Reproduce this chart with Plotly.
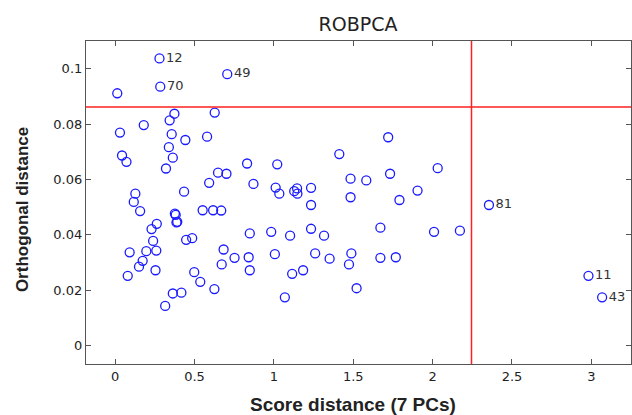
import plotly.graph_objects as go

# Unlabelled observations: score distance (x) and orthogonal distance (y)
score_dist = [0.013, 0.030, 0.180, 0.373, 0.343, 0.627, 0.356, 0.579, 0.442, 0.338,
              1.720, 0.043, 0.071, 0.363, 1.412, 0.320, 0.831, 1.021, 2.032, 0.648,
              0.701, 1.732, 1.483, 1.582, 0.592, 0.871, 1.011, 1.234, 1.146, 1.128,
              1.148, 1.034, 1.905, 0.127, 0.434, 1.483, 1.791, 0.117, 1.234, 0.157,
              0.551, 0.617, 0.668, 0.376, 0.381, 0.391, 0.386, 0.262, 0.229, 1.671,
              1.234, 2.009, 2.172, 0.983, 0.848, 1.102, 1.316, 0.485, 0.447, 0.239,
              0.683, 0.091, 0.196, 0.259, 0.173, 1.006, 1.260, 1.488, 0.841, 0.752,
              1.351, 1.671, 1.768, 0.150, 0.671, 1.473, 0.254, 0.848, 1.184, 1.115,
              0.498, 0.079, 0.536, 0.625, 1.521, 0.363, 0.417, 1.069, 0.315]
orth_dist = [0.0912, 0.0770, 0.0797, 0.0838, 0.0814, 0.0842, 0.0764, 0.0755, 0.0743, 0.0717,
             0.0753, 0.0687, 0.0664, 0.0679, 0.0692, 0.0640, 0.0658, 0.0655, 0.0641, 0.0625,
             0.0621, 0.0621, 0.0603, 0.0597, 0.0588, 0.0584, 0.0571, 0.0570, 0.0568, 0.0558,
             0.0549, 0.0549, 0.0560, 0.0549, 0.0556, 0.0536, 0.0526, 0.0519, 0.0508, 0.0486,
             0.0489, 0.0489, 0.0488, 0.0477, 0.0472, 0.0447, 0.0445, 0.0440, 0.0421, 0.0426,
             0.0422, 0.0411, 0.0415, 0.0411, 0.0405, 0.0397, 0.0397, 0.0388, 0.0382, 0.0378,
             0.0347, 0.0337, 0.0341, 0.0343, 0.0306, 0.0330, 0.0333, 0.0333, 0.0319, 0.0317,
             0.0314, 0.0317, 0.0319, 0.0285, 0.0293, 0.0293, 0.0272, 0.0272, 0.0272, 0.0259,
             0.0265, 0.0252, 0.0230, 0.0204, 0.0207, 0.0188, 0.0191, 0.0174, 0.0143]

# Labelled (outlying) observations
label_ids = ["12", "70", "49", "81", "11", "43"]
label_sd = [0.279, 0.284, 0.706, 2.355, 2.982, 3.068]
label_od = [0.1038, 0.0936, 0.0981, 0.0508, 0.0252, 0.0174]

# Cut-off values
sd_cutoff = 2.245
od_cutoff = 0.0862

x_ticks = [0, 0.5, 1, 1.5, 2, 2.5, 3]
x_ticktext = ["0", "0.5", "1", "1.5", "2", "2.5", "3"]
y_ticks = [0, 0.02, 0.04, 0.06, 0.08, 0.1]
y_ticktext = ["0", "0.02", "0.04", "0.06", "0.08", "0.1"]

marker_style = dict(symbol="circle-open", size=9, color="#1a1aff", line=dict(width=1.3, color="#1a1aff"))

fig = go.Figure()
fig.add_trace(go.Scatter(x=score_dist, y=orth_dist, mode="markers", marker=marker_style,
                         showlegend=False, cliponaxis=False))
fig.add_trace(go.Scatter(x=label_sd, y=label_od, mode="markers+text", text=label_ids,
                         textposition="middle right",
                         textfont=dict(family="DejaVu Sans", size=13, color="#333333"),
                         marker=marker_style, showlegend=False, cliponaxis=False))

fig.add_shape(type="line", xref="x", yref="paper", x0=sd_cutoff, x1=sd_cutoff, y0=0, y1=1,
              line=dict(color="#ff2020", width=1.5))
fig.add_shape(type="line", xref="paper", yref="y", x0=0, x1=1, y0=od_cutoff, y1=od_cutoff,
              line=dict(color="#ff2020", width=1.5))

axis_common = dict(showline=True, linecolor="#555555", linewidth=1.2, mirror="ticks",
                   ticks="inside", ticklen=5, tickwidth=1, tickcolor="#555555",
                   showgrid=False, zeroline=False,
                   tickfont=dict(family="DejaVu Sans", size=13, color="#222222"))

fig.update_layout(
    width=632, height=415,
    margin=dict(l=86, r=1, t=41, b=51),
    paper_bgcolor="white", plot_bgcolor="white",
    title=dict(text="ROBPCA", x=358/632, y=1 - 24.5/415, xanchor="center", yanchor="middle",
               font=dict(family="DejaVu Sans", size=19, color="#222222")),
    xaxis=dict(range=[-0.184, 3.25], tickvals=x_ticks, ticktext=x_ticktext, **axis_common),
    yaxis=dict(range=[-0.0067, 0.1101], tickvals=y_ticks, ticktext=y_ticktext, **axis_common),
    annotations=[
        dict(text="<b>Score distance (7 PCs)</b>", xref="paper", yref="paper",
             x=0.489, y=-0.124, xanchor="center", yanchor="middle", showarrow=False,
             font=dict(family="Liberation Sans", size=19, color="#222222")),
        dict(text="<b>Orthogonal distance</b>", xref="paper", yref="paper",
             x=-0.1154, y=0.4768, xanchor="center", yanchor="middle", showarrow=False,
             textangle=-90, font=dict(family="Liberation Sans", size=17, color="#222222")),
    ],
)

fig.write_html("out.html")
